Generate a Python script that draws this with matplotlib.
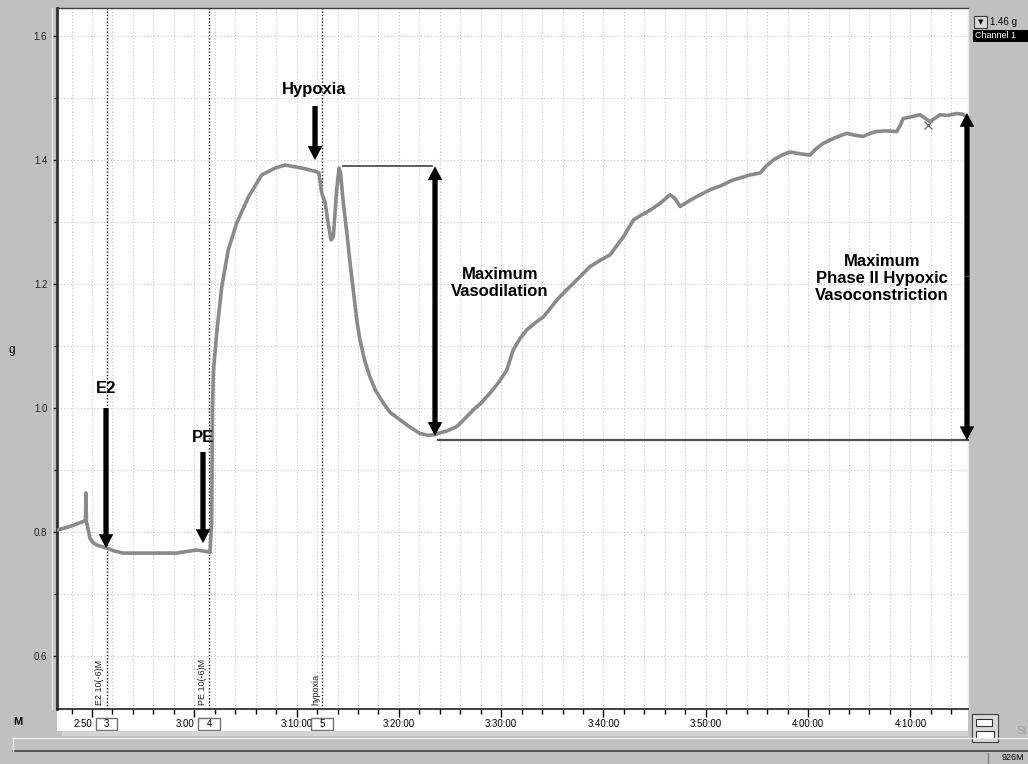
import matplotlib
matplotlib.use('Agg')
import matplotlib.pyplot as plt
from matplotlib.patches import Rectangle
from matplotlib.lines import Line2D
import matplotlib.transforms as mtransforms
from matplotlib.ticker import FixedLocator, FixedFormatter, MultipleLocator

# ---------------- data (time in minutes after 2:50:00, tension in g) ----------------
time_min = [-3.42, -2.15, -0.85, -0.64, -0.59, -0.54, -0.46, -0.20, 0.10, 0.46, 1.44, 2.25,
            3.06, 5.67, 8.28, 10.23, 11.37, 11.53, 11.65, 11.70, 11.78, 11.87, 12.19, 12.68,
            13.32, 14.14, 15.28, 16.59, 17.89, 18.87, 19.84, 20.82, 21.96, 22.19, 22.45, 22.78,
            23.07, 23.36, 23.59, 23.92, 24.15, 24.29, 24.57, 24.93, 25.22, 25.54, 25.90, 26.19,
            26.68, 27.17, 27.76, 28.48, 29.13, 30.11, 31.09, 32.06, 32.84, 33.53, 34.02, 34.70,
            35.65, 36.46, 37.27, 38.03, 38.91, 39.69, 40.54, 41.18, 41.84, 42.49, 43.30, 44.12,
            44.77, 45.43, 46.24, 47.05, 47.90, 48.68, 49.66, 50.64, 51.22, 51.94, 52.91, 53.57,
            54.55, 55.52, 56.50, 56.99, 57.48, 58.26, 59.11, 60.41, 61.39, 62.69, 63.54, 64.32,
            65.30, 65.89, 66.60, 67.45, 68.23, 69.21, 70.19, 70.77, 71.49, 72.63, 73.77, 74.58,
            75.39, 76.05, 76.70, 77.61, 78.66, 78.98, 79.30, 80.16, 80.94, 81.92, 82.89, 83.68,
            84.52, 85.04, 85.50]
tension_g = [0.803, 0.809, 0.817, 0.818, 0.863, 0.815, 0.811, 0.790, 0.783, 0.779, 0.774, 0.769,
             0.766, 0.766, 0.766, 0.771, 0.768, 0.767, 0.800, 0.815, 1.000, 1.060, 1.121, 1.195,
             1.255, 1.298, 1.340, 1.376, 1.387, 1.392, 1.389, 1.386, 1.381, 1.379, 1.347, 1.332,
             1.300, 1.271, 1.276, 1.352, 1.387, 1.380, 1.330, 1.280, 1.235, 1.190, 1.140, 1.110,
             1.075, 1.050, 1.027, 1.008, 0.993, 0.981, 0.969, 0.959, 0.956, 0.957, 0.960, 0.963,
             0.970, 0.983, 0.997, 1.008, 1.024, 1.040, 1.061, 1.094, 1.112, 1.126, 1.137, 1.147,
             1.160, 1.174, 1.188, 1.201, 1.215, 1.228, 1.238, 1.247, 1.260, 1.276, 1.303, 1.310,
             1.319, 1.330, 1.344, 1.338, 1.325, 1.333, 1.341, 1.352, 1.358, 1.368, 1.372, 1.376,
             1.379, 1.390, 1.400, 1.408, 1.413, 1.410, 1.408, 1.418, 1.427, 1.436, 1.443, 1.440,
             1.438, 1.443, 1.446, 1.447, 1.446, 1.455, 1.467, 1.470, 1.473, 1.462, 1.473, 1.472,
             1.475, 1.474, 1.470]

tick_minutes = [0, 10, 20, 30, 40, 50, 60, 70, 80]
tick_labels = ['2:50', '3:00', '3:10:00', '3:20:00', '3:30:00',
               '3:40:00', '3:50:00', '4:00:00', '4:10:00']
ytick_values = [0.6, 0.8, 1.0, 1.2, 1.4, 1.6]
ytick_labels = ['0.6', '0.8', '1.0', '1.2', '1.4', '1.6']

comment_minutes = [1.42, 11.44, 22.48]
comment_texts = ['E2 10(-6)M', 'PE 10(-6)M', 'hypoxia']
comment_ids = ['3', '4', '5']

marker_x = [81.72]
marker_g = [1.456]

# annotation arrows (time, tail g, tip g)
e2_arrow = (1.37, 1.000, 0.774)
pe_arrow = (10.85, 0.929, 0.782)
hyp_arrow = (21.80, 1.487, 1.400)
vasodil = (33.53, 1.390, 0.955)       # double arrow
phase2 = (85.53, 1.476, 0.948)        # double arrow
peak_line = (24.50, 33.20, 1.390)
trough_line = (33.80, 85.63, 0.948)

# ---------------- figure ----------------
W, H = 1028, 764
plt.rcParams['font.family'] = ['Liberation Sans', 'DejaVu Sans']
fig = plt.figure(figsize=(W / 100, H / 100), dpi=100)
fig.patch.set_facecolor('#c0c0c0')


def fx(x):
    return x / W


def fy(y):
    return 1 - y / H


def px_rect(x0, y0, x1, y1, **kw):
    r = Rectangle((fx(x0), fy(y1)), (x1 - x0) / W, (y1 - y0) / H,
                  transform=fig.transFigure, **kw)
    fig.patches.append(r)
    return r


def px_line(x0, y0, x1, y1, **kw):
    fig.lines.append(Line2D([fx(x0), fx(x1)], [fy(y0), fy(y1)],
                            transform=fig.transFigure, **kw))


XL = (-3.42, 85.63)
YL = (0.5145, 1.6452)

# time strip (white band under the plot)
tax = fig.add_axes([fx(57), fy(731), 911 / W, 22 / H], zorder=0)
tax.set_facecolor('white')
tax.set_xticks([])
tax.set_yticks([])
for s in tax.spines.values():
    s.set_visible(False)

ax = fig.add_axes([fx(57), fy(709), 911 / W, 701 / H], zorder=1)
ax.set_facecolor('white')
ax.set_xlim(*XL)
ax.set_ylim(*YL)

ax.set_xticks(tick_minutes, labels=tick_labels)
ax.xaxis.set_minor_locator(MultipleLocator(2))
ax.yaxis.set_major_locator(FixedLocator(ytick_values))
ax.yaxis.set_major_formatter(FixedFormatter(ytick_labels))
ax.yaxis.set_minor_locator(MultipleLocator(0.1))

ax.tick_params(axis='x', which='major', direction='out', length=6, width=1,
               labelsize=7, pad=1, colors='black')
ax.tick_params(axis='x', which='minor', direction='out', length=3.5, width=1, colors='black')
ax.tick_params(axis='y', which='major', direction='out', length=3, width=1,
               labelsize=7, pad=4, colors='#202020')
ax.tick_params(axis='y', which='minor', direction='out', length=2, width=1, colors='#202020')
# the first two time labels are partly hidden behind comment boxes in the original:
# show their visible part, ending at the tick
for lbl in ax.get_xticklabels()[:2]:
    lbl.set_horizontalalignment('right')

ax.grid(True, which='both', axis='both', color='#c4c4c4', linestyle=(0, (1, 2)), linewidth=0.8)
ax.set_axisbelow(True)

ax.spines['left'].set_color('#303030')
ax.spines['left'].set_linewidth(2)
ax.spines['bottom'].set_color('#202020')
ax.spines['bottom'].set_linewidth(1.2)
ax.spines['top'].set_color('#404040')
ax.spines['top'].set_linewidth(1)
ax.spines['right'].set_color('#e8e8e8')
ax.spines['right'].set_linewidth(1)

# comment markers
blend = mtransforms.blended_transform_factory(ax.transData, ax.transAxes)
for cm, ct, cid in zip(comment_minutes, comment_texts, comment_ids):
    ax.axvline(cm, color='#101010', linestyle=(0, (1, 1.4)), linewidth=1.0, zorder=2)
    ax.annotate(ct, xy=(cm, 0), xycoords=blend, xytext=(-1.5, 3), textcoords='offset points',
                rotation=90, ha='right', va='bottom', fontsize=6.5, color='#202020')
    bw = 2.1
    rect = Rectangle((cm - bw / 2, -0.0296), bw, 0.0171, transform=blend, clip_on=False,
                     facecolor='white', edgecolor='#707070', linewidth=1, zorder=4)
    ax.add_patch(rect)
    ax.text(cm, -0.0210, cid, transform=blend, ha='center', va='center', fontsize=7,
            zorder=5, clip_on=False)

# trace
ax.plot(time_min, tension_g, color='#8a8a8a', linewidth=2.6, zorder=3, solid_joinstyle='round')
ax.plot(marker_x, marker_g, marker='x', color='#707070', markersize=6, mew=1.0,
        linestyle='none', zorder=3)

# helper horizontal lines
ax.plot([peak_line[0], peak_line[1]], [peak_line[2], peak_line[2]], color='#505050',
        linewidth=1.3, zorder=3)
ax.plot([trough_line[0], trough_line[1]], [trough_line[2], trough_line[2]], color='#505050',
        linewidth=1.6, zorder=3, clip_on=False)

arrow_style = 'simple,head_length=1.0,head_width=1.05,tail_width=0.38'


def arrow(x, y0, y1):
    ax.annotate('', xy=(x, y1), xytext=(x, y0),
                arrowprops=dict(arrowstyle=arrow_style, fc='black', ec='none', lw=0,
                                shrinkA=0, shrinkB=0, mutation_scale=10),
                zorder=6, annotation_clip=False)


arrow(*e2_arrow)
arrow(*pe_arrow)
arrow(*hyp_arrow)
for (x, top, bot) in (vasodil, phase2):
    mid = (top + bot) / 2
    arrow(x, mid, top)
    arrow(x, mid, bot)

lab = dict(fontsize=12, fontweight='bold', ha='center', va='center', color='black', zorder=7)
ax.text(1.37, 1.032, 'E2', **lab)
ax.text(10.85, 0.952, 'PE', **lab)
ax.text(21.70, 1.513, 'Hypoxia', **lab)
ax.text(39.88, 1.201, 'Maximum\nVasodilation', linespacing=1.15, **lab)
ax.text(77.2, 1.209, 'Maximum\nPhase II Hypoxic\nVasoconstriction', linespacing=1.15, **lab)

# ---------------- window chrome ----------------
fig.text(fx(12), fy(350), 'g', fontsize=8.5, ha='center', va='center')
px_line(52, 8, 52, 709, color='#e8e8e8', linewidth=1)

# right panel widgets
px_rect(974, 16, 987, 28, facecolor='#d8d8d8', edgecolor='#404040', linewidth=0.8)
fig.text(fx(980.5), fy(22), '▼', fontsize=5, ha='center', va='center',
         family=['DejaVu Sans'])
fig.text(fx(990), fy(22), '1.46 g', fontsize=7, ha='left', va='center')
px_rect(973, 30, 1028, 42, facecolor='black', edgecolor='black', linewidth=0)
fig.text(fx(975), fy(36), 'Channel 1', fontsize=6.5, ha='left', va='center', color='white')

# bottom bars
px_rect(62, 731, 968, 736, facecolor='#d4d4d4', edgecolor='none')
px_line(13, 738, 1028, 738, color='#f0f0f0', linewidth=1)
px_line(13, 751, 1028, 751, color='#404040', linewidth=1.2)
px_line(13, 738, 13, 751, color='#f0f0f0', linewidth=1)
px_line(988, 753, 988, 764, color='#808080', linewidth=1)
fig.text(fx(1024), fy(758), '926M', fontsize=6.5, ha='right', va='center')

fig.text(fx(18), fy(722), 'M', fontsize=8, fontweight='bold', ha='center', va='center')
px_rect(972, 714, 998, 742, facecolor='#d8d8d8', edgecolor='#404040', linewidth=0.8)
px_rect(976, 719, 992, 726, facecolor='white', edgecolor='#303030', linewidth=0.8)
px_rect(976, 731, 994, 738, facecolor='white', edgecolor='#303030', linewidth=0.8)
fig.text(fx(1016), fy(731), 'St', fontsize=8, ha='left', va='center', color='#a0a0a0')

fig.savefig('out.png', dpi=100, facecolor=fig.get_facecolor())
